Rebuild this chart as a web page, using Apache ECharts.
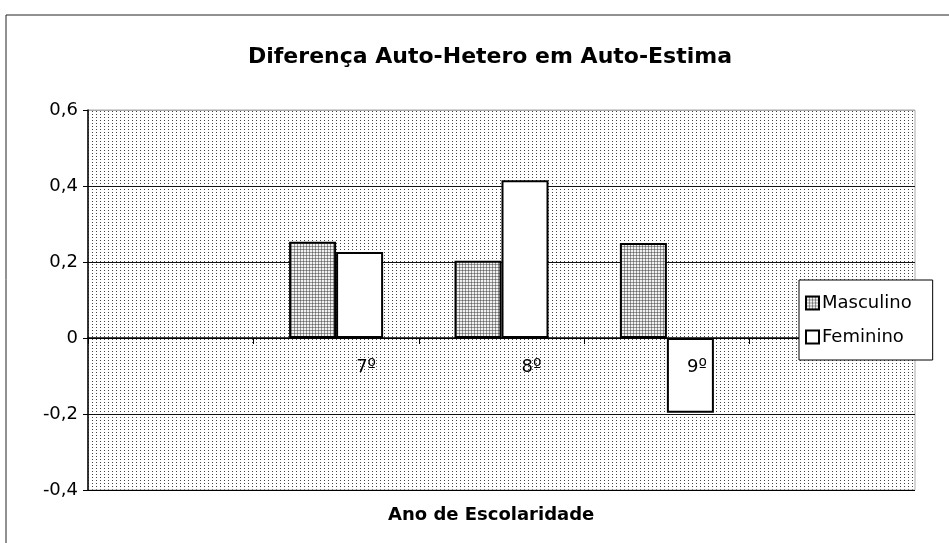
<!DOCTYPE html>
<html>
<head>
<meta charset="utf-8">
<script src="https://cdn.jsdelivr.net/npm/echarts@6/dist/echarts.min.js"></script>
<style>
  html, body { margin: 0; padding: 0; background: #fff; }
  #chart { width: 949px; height: 543px; }
</style>
</head>
<body>
<div id="chart"></div>
<script>
// dados
const anos = ['', '7º', '8º', '9º', ''];
const masculino = [null, 0.253, 0.203, 0.25, null];
const feminino = [null, 0.226, 0.415, -0.197, null];
const yTicks = [-0.4, -0.2, 0, 0.2, 0.4, 0.6];

// padroes tipo Excel
function makePattern(w, h, dots, bg) {
    const c = document.createElement('canvas');
    c.width = w; c.height = h;
    const ctx = c.getContext('2d');
    ctx.fillStyle = bg;
    ctx.fillRect(0, 0, w, h);
    dots.forEach(d => {
        ctx.fillStyle = d[2];
        ctx.fillRect(d[0], d[1], 1, 1);
    });
    return c;
}
const fundo = makePattern(4, 3, [[0, 0, '#444']], '#ffffff');
const hachura = makePattern(3, 3, [[0, 0, '#666'], [1, 0, '#999'], [2, 0, '#999'], [0, 1, '#999'], [0, 2, '#999']], '#f0f0f0');

const chart = echarts.init(document.getElementById('chart'));
const fonte = 'DejaVu Sans, Arial, sans-serif';

// grid: topo 110, base 490 -> zero fica em 338
const gridTop = 110, gridBottom = 490;
const zeroOffset = (gridBottom - gridTop) * yTicks[yTicks.length - 1] / (yTicks[yTicks.length - 1] - yTicks[0]) + gridTop - gridBottom;

const option = {
    animation: false,
    backgroundColor: '#fff',
    title: [{
        text: 'Diferença Auto-Hetero em Auto-Estima',
        left: 248,
        top: 46,
        padding: 0,
        textStyle: { fontFamily: fonte, fontSize: 22, fontWeight: 'bold', color: '#000' }
    }, {
        text: 'Ano de Escolaridade',
        left: 388,
        top: 506,
        padding: 0,
        textStyle: { fontFamily: fonte, fontSize: 18, fontWeight: 'bold', color: '#000' }
    }],
    graphic: [{
        type: 'rect',
        shape: { x: 6, y: 15, width: 960, height: 560 },
        style: { fill: 'none', stroke: '#222', lineWidth: 1 },
        silent: true
    }],
    legend: {
        orient: 'vertical',
        left: 799,
        top: 280,
        z: 10,
        backgroundColor: '#fff',
        borderColor: '#000',
        borderWidth: 1,
        padding: [14, 21, 14, 6],
        itemGap: 16,
        itemWidth: 13,
        itemHeight: 13,
        icon: 'rect',
        textStyle: { fontFamily: fonte, fontSize: 18, color: '#000', padding: [0, 0, 0, -2] },
        data: ['Masculino', 'Feminino']
    },
    grid: {
        left: 88,
        right: 34,
        top: gridTop,
        bottom: 543 - gridBottom,
        outerBoundsMode: 'none',
        containLabel: false,
        show: true,
        backgroundColor: { image: fundo, repeat: 'repeat' },
        borderColor: '#aaa',
        borderWidth: 1
    },
    xAxis: {
        type: 'category',
        data: anos,
        z: 5,
        offset: zeroOffset,
        axisLine: { onZero: false, lineStyle: { color: '#000', width: 1.5 } },
        axisTick: { show: true, interval: 0, length: 6, lineStyle: { color: '#000' } },
        axisLabel: {
            interval: 0,
            margin: 20,
            fontFamily: fonte,
            fontSize: 18,
            color: '#000',
            padding: [0, 0, 0, 60]
        },
        splitLine: { show: false }
    },
    yAxis: {
        type: 'value',
        min: yTicks[0],
        max: yTicks[yTicks.length - 1],
        interval: 0.2,
        axisLine: { show: true, lineStyle: { color: '#000', width: 1.5 } },
        axisTick: { show: true, length: 5, lineStyle: { color: '#000' } },
        axisLabel: {
            fontFamily: fonte,
            fontSize: 18,
            color: '#000',
            margin: 10,
            formatter: v => Math.abs(v) < 1e-9 ? '0' : v.toFixed(1).replace('.', ',')
        },
        splitLine: {
            show: true,
            lineStyle: { color: ['#000', '#111', '#111', '#111', '#111', '#aaa'], width: 1.2 }
        }
    },
    series: [
        {
            name: 'Masculino',
            type: 'bar',
            data: masculino,
            barWidth: 47,
            barGap: '0%',
            itemStyle: { color: { image: hachura, repeat: 'repeat' }, borderColor: '#000', borderWidth: 2 }
        },
        {
            name: 'Feminino',
            type: 'bar',
            data: feminino,
            barWidth: 47,
            itemStyle: { color: '#fff', borderColor: '#000', borderWidth: 2 }
        }
    ]
};

chart.setOption(option);
</script>
</body>
</html>
